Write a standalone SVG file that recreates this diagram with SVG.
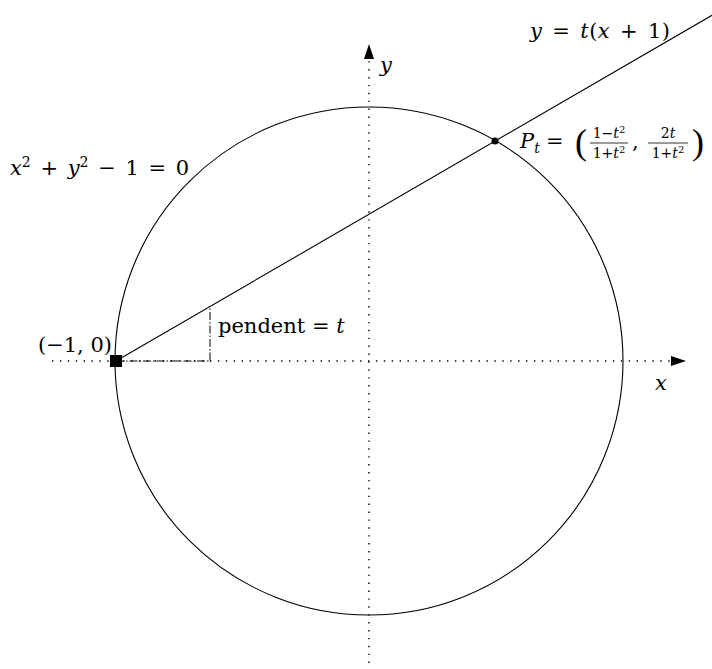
<svg xmlns="http://www.w3.org/2000/svg" width="712" height="669" viewBox="0 0 712 669">
<defs>
<style>
.ax{stroke:#000;stroke-width:1.4;stroke-dasharray:1.4 6.5;fill:none}
.ln{stroke:#000;stroke-width:1.1;fill:none}
.dd{stroke:#000;stroke-width:1;stroke-dasharray:8 2 1.5 2;fill:none}
text{font-family:"DejaVu Serif","Liberation Serif",serif;fill:#000}
.m{font-size:21px}
.w{font-size:21px;word-spacing:3px}
.i{font-style:italic}
.s{font-size:14px}
.p{font-size:36px;font-family:"Liberation Serif",serif}
</style>
</defs>
<rect width="712" height="669" fill="#fff"/>
<g id="connectors">
<line class="ax" x1="52" y1="361" x2="672" y2="361"/>
<polygon points="686,361 671,356 671,366" fill="#000"/>
<line class="ax" x1="369" y1="663" x2="369" y2="59"/>
<polygon points="369,44 364,59 374,59" fill="#000"/>
<line class="ln" x1="116" y1="361" x2="712" y2="15.3"/>
<polyline class="dd" points="116,361 210,361 210,306.5"/>
</g>
<g id="circle"><circle cx="369" cy="361" r="254" class="ln"/></g>
<g id="pointA"><rect x="110" y="355" width="12" height="12" fill="#000"/>
<text x="112" y="352" class="m" text-anchor="end">(−1, 0)</text></g>
<g id="pointPt"><circle cx="495" cy="141" r="3.5" fill="#000"/>
<text x="520" y="148" class="m"><tspan class="i">P</tspan><tspan class="i s" dy="5">t</tspan><tspan dy="-5" x="546">=</tspan></text>
<text x="575" y="154" class="p">(</text>
<text x="609" y="138" class="s" text-anchor="middle">1−<tspan class="i">t</tspan><tspan font-size="10" dy="-5">2</tspan></text>
<line x1="590" y1="143" x2="628" y2="143" stroke="#000" stroke-width="0.8"/>
<text x="609" y="158" class="s" text-anchor="middle">1+<tspan class="i">t</tspan><tspan font-size="10" dy="-5">2</tspan></text>
<text x="632" y="148" class="m">,</text>
<text x="668" y="138" class="s" text-anchor="middle">2<tspan class="i">t</tspan></text>
<line x1="648" y1="143" x2="688" y2="143" stroke="#000" stroke-width="0.8"/>
<text x="668" y="158" class="s" text-anchor="middle">1+<tspan class="i">t</tspan><tspan font-size="10" dy="-5">2</tspan></text>
<text x="692" y="154" class="p">)</text></g>
<g id="lineLabel"><text x="530" y="38" class="w" textLength="140"><tspan class="i">y</tspan> = <tspan class="i">t</tspan>(<tspan class="i">x</tspan> + 1)</text></g>
<g id="circleLabel"><text x="10" y="175" class="w"><tspan class="i">x</tspan><tspan font-size="14" dy="-8">2</tspan><tspan dy="8"> + </tspan><tspan class="i">y</tspan><tspan font-size="14" dy="-8">2</tspan><tspan dy="8"> − 1 = 0</tspan></text></g>
<g id="slopeLabel"><text x="218" y="333" class="m">pendent = <tspan class="i">t</tspan></text></g>
<g id="axisLabels"><text x="380" y="72" class="m i">y</text>
<text x="655" y="390" class="m i">x</text></g>
</svg>
